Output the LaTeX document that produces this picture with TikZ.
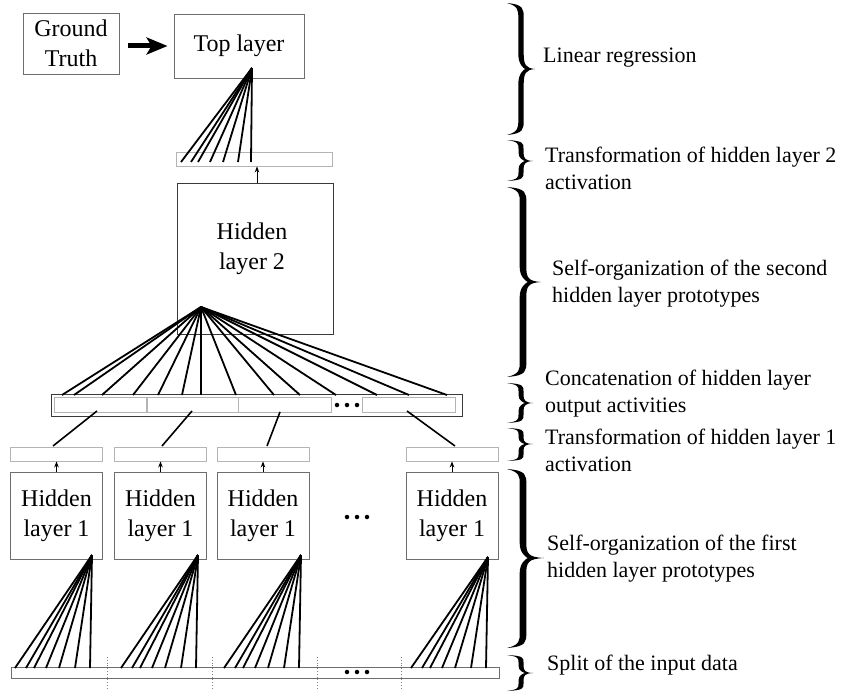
\documentclass[tikz,border=0pt]{standalone}
\usepackage{fontspec}
\setmainfont{Liberation Serif}
\usetikzlibrary{arrows.meta}
\definecolor{boxgray}{HTML}{6E6E6E}
\definecolor{stripgray}{HTML}{B4B4B4}
\definecolor{darkbox}{HTML}{3A3A3A}
% #1 xe, #2 xb, #3 xt, #4 y1, #5 ym, #6 y2, #7 half thickness
\newcommand\mybrace[7]{%
  \pgfmathsetmacro\bcl{min(15,(#5-#4)*0.4)}%
  \fill[black]
   (#1,#4) .. controls ({#2+#7},{#4+0.1*\bcl}) and ({#2+#7},{#4+0.4*\bcl}) .. ({#2+#7},{#4+\bcl})
   -- ({#2+#7},{#5-\bcl})
   .. controls ({#2+#7},{#5-0.3*\bcl}) and ({#2+#7+2},{#5-0.05*\bcl}) .. (#3,#5)
   .. controls ({#2+#7+2},{#5+0.05*\bcl}) and ({#2+#7},{#5+0.3*\bcl}) .. ({#2+#7},{#5+\bcl})
   -- ({#2+#7},{#6-\bcl})
   .. controls ({#2+#7},{#6-0.4*\bcl}) and ({#2+#7},{#6-0.1*\bcl}) .. (#1,#6)
   .. controls ({#2-#7},{#6-0.2*\bcl}) and ({#2-#7},{#6-0.5*\bcl}) .. ({#2-#7},{#6-\bcl})
   -- ({#2-#7},{#5+\bcl})
   .. controls ({#2-#7},{#5+0.3*\bcl}) and ({#2+#7},{#5+0.05*\bcl}) .. ({#2+#7+1.5},#5)
   .. controls ({#2+#7},{#5-0.05*\bcl}) and ({#2-#7},{#5-0.3*\bcl}) .. ({#2-#7},{#5-\bcl})
   -- ({#2-#7},{#4+\bcl})
   .. controls ({#2-#7},{#4+0.5*\bcl}) and ({#2-#7},{#4+0.2*\bcl}) .. (#1,#4) -- cycle;%
}
\begin{document}
\begin{tikzpicture}[x=1pt,y=-1pt,
  bx/.style={draw=boxgray, line width=0.9pt, rectangle, inner sep=0pt, align=center,
             font=\fontsize{24}{30}\selectfont},
  strip/.style={draw=stripgray, line width=0.8pt, rectangle, inner sep=0pt, minimum height=14pt},
  fan/.style={line width=1.8pt},
  link/.style={line width=1.6pt},
  uparrow/.style={line width=1pt, -{Stealth[length=6pt,width=4.5pt]}},
  lbl/.style={anchor=west, inner sep=0pt, align=left, font=\fontsize{22}{27}\selectfont},
  dotsep/.style={draw=gray, line width=0.8pt, dotted},
  smalldot/.style={circle, fill=black, inner sep=0pt, minimum size=4.5pt}
]
\useasboundingbox (0,0) rectangle (845,693);

% ---- top part
\node[bx, minimum width=96pt, minimum height=61pt] (gt) at (71,43.5) {Ground\\Truth};
\node[bx, minimum width=130pt, minimum height=64pt] (top) at (239,46) {Top layer};
\draw[line width=5pt, -{Stealth[length=21pt,width=17pt,inset=5pt]}, shorten <=9pt, shorten >=6pt]
  (gt.east |- top.west) -- (top.west);

\node[strip, minimum width=156pt] (ts) at (254,159) {};
\node[bx, draw=darkbox, minimum width=156pt, minimum height=151pt] (h2) at (255,258.5) {};
\node[bx, draw=none] (h2t) at (252,249) {Hidden\\layer 2};
\draw[uparrow] ([xshift=2pt]h2.north) -- ([xshift=2pt]h2.north |- ts.south);

\coordinate (tfo) at (252,68);
\foreach \x [count=\i] in {181,191,198,210,223,238,251}{
  \coordinate (tfe\i) at (\x,162);
  \draw[fan] (tfo) -- (tfe\i);
}

% ---- concatenation bar
\node[draw=darkbox, line width=0.9pt, inner sep=0pt, minimum width=411pt, minimum height=22pt] (cb) at (256.5,405) {};
\node[strip, minimum width=92pt, minimum height=15pt] (c1) at (100.5,404.5) {};
\node[strip, minimum width=91pt, minimum height=15pt] (c2) at (192.5,404.5) {};
\node[strip, minimum width=93pt, minimum height=15pt] (c3) at (284.5,404.5) {};
\node[strip, minimum width=93pt, minimum height=15pt] (c4) at (408.5,404.5) {};
\node[smalldot] (cd1) at (337,405) {};
\node[smalldot] (cd2) at (347,405) {};
\node[smalldot] (cd3) at (357,405) {};

\coordinate (h2o) at (201,307);
\foreach \x [count=\i] in {62,74,102,133,158,182,201,236,274,300,336,377,409,447}{
  \coordinate (h2e\i) at (\x,395);
  \draw[fan] (h2o) -- (h2e\i);
}

% ---- hidden layer 1 row
\foreach \n/\cx in {1/56.5, 2/160.5, 3/263, 4/452}{
  \node[strip, minimum width=92pt] (s\n) at (\cx,454) {};
  \node[bx, minimum width=92pt, minimum height=87pt] (b\n) at (\cx,515.5) {Hidden\\layer 1};
  \draw[uparrow] (b\n.north) -- (b\n.north |- s\n.south);
}
\node[smalldot] (md1) at (347,517) {};
\node[smalldot] (md2) at (357,517) {};
\node[smalldot] (md3) at (367,517) {};

\coordinate (l1a) at (97,411);  \coordinate (l1b) at (53,446);
\coordinate (l2a) at (192,411); \coordinate (l2b) at (162,446);
\coordinate (l3a) at (280,412); \coordinate (l3b) at (267,446);
\coordinate (l4a) at (407,411); \coordinate (l4b) at (455,446);
\draw[link] (l1a) -- (l1b);
\draw[link] (l2a) -- (l2b);
\draw[link] (l3a) -- (l3b);
\draw[link] (l4a) -- (l4b);

% ---- input bar
\node[draw=boxgray, line width=0.9pt, inner sep=0pt, minimum width=488pt, minimum height=11pt] (ib) at (255,672.5) {};
\node[smalldot] (id1) at (347,672) {};
\node[smalldot] (id2) at (357,672) {};
\node[smalldot] (id3) at (367,672) {};
\foreach \x [count=\i] in {107,212,317,401}{
  \coordinate (spa\i) at (\x,657);
  \coordinate (spb\i) at (\x,688);
  \draw[dotsep] (spa\i) -- (spb\i);
}

\foreach \ox/\oy/\k in {92/555/1, 198/555/2, 301/555/3, 488/557/4}{
  \coordinate (fo\k) at (\ox,\oy);
  \foreach \d [count=\i] in {-77,-66,-58,-46,-33,-17,-2}{
    \coordinate (fe\k x\i) at (\ox+\d,668);
    \draw[fan] (fo\k) -- (fe\k x\i);
  }
}

% ---- braces
\mybrace{507}{521}{535}{3}{69}{135}{2.7}
\mybrace{507}{521}{533}{140}{161}{181}{2.5}
\mybrace{507}{523}{541}{187}{282}{377}{3.3}
\mybrace{507}{521}{533}{383}{403}{423}{2.5}
\mybrace{507}{521}{533}{428}{444}{461}{2.5}
\mybrace{507}{523}{544}{469}{558}{648}{3.3}
\mybrace{507}{521}{533}{655}{673}{691}{2.5}

% ---- labels
\node[lbl] (L1) at (543,58) {Linear regression};
\node[lbl] (L2) at (545,168.5) {Transformation of hidden layer 2\\activation};
\node[lbl] (L3) at (552,283.5) {Self-organization of the second\\hidden layer prototypes};
\node[lbl] (L4) at (545,394) {Concatenation of hidden layer\\output activities};
\node[lbl] (L5) at (545,450.5) {Transformation of hidden layer 1\\activation};
\node[lbl] (L6) at (547,558.5) {Self-organization of the first\\hidden layer prototypes};
\node[lbl] (L7) at (547,665) {Split of the input data};
\end{tikzpicture}
\end{document}
